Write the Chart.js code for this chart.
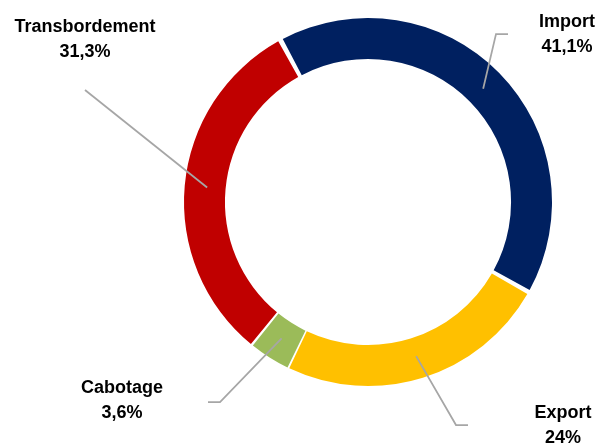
<!DOCTYPE html>
<html>
<head>
<meta charset="utf-8">
<script src="https://cdn.jsdelivr.net/npm/chart.js@4/dist/chart.umd.min.js"></script>
<style>
  html, body { margin: 0; padding: 0; background: #fff; }
  #wrap { width: 602px; height: 446px; }
</style>
</head>
<body>
<div id="wrap"><canvas id="trafficChart" width="602" height="446"></canvas></div>
<script>
const categories = ["Import", "Export", "Cabotage", "Transbordement"];
const shares = [41.1, 24, 3.6, 31.3];
const sliceColors = ["#002060", "#FFC000", "#9BBB59", "#C00000"];

// where each label sits, and the bend of its leader line (null = straight)
const labelSpots = [
  { x: 567, y: 22, elbow: [496, 34], end: [508, 34] },
  { x: 563, y: 413, elbow: [456, 425], end: [468, 425] },
  { x: 122, y: 388, elbow: [220, 402], end: [208, 402] },
  { x: 85, y: 27, elbow: null, end: [85, 90] }
];

function fmtPct(v) {
  return String(v).replace(".", ",") + "%";
}

const leaderLabels = {
  id: "leaderLabels",
  afterDatasetsDraw(chart) {
    const ctx = chart.ctx;
    const arcs = chart.getDatasetMeta(0).data;
    ctx.save();
    arcs.forEach((arc, i) => {
      const p = arc.getProps(["x", "y", "startAngle", "endAngle", "innerRadius", "outerRadius"], true);
      const mid = (p.startAngle + p.endAngle) / 2;
      const r = (p.innerRadius + p.outerRadius) / 2;
      const sx = p.x + Math.cos(mid) * r;
      const sy = p.y + Math.sin(mid) * r;
      const spot = labelSpots[i];

      ctx.beginPath();
      ctx.strokeStyle = "#A6A6A6";
      ctx.lineWidth = 1.75;
      ctx.moveTo(sx, sy);
      if (spot.elbow) ctx.lineTo(spot.elbow[0], spot.elbow[1]);
      ctx.lineTo(spot.end[0], spot.end[1]);
      ctx.stroke();

      ctx.fillStyle = "#000";
      ctx.font = "bold 18px 'Liberation Sans', Arial, sans-serif";
      ctx.textAlign = "center";
      ctx.textBaseline = "middle";
      ctx.fillText(categories[i], spot.x, spot.y);
      ctx.fillText(fmtPct(shares[i]), spot.x, spot.y + 25);
    });
    ctx.restore();
  }
};

new Chart(document.getElementById("trafficChart"), {
  type: "doughnut",
  data: {
    labels: categories,
    datasets: [{
      data: shares,
      backgroundColor: sliceColors,
      borderWidth: 0,
      spacing: 4
    }]
  },
  options: {
    responsive: false,
    animation: false,
    rotation: -28.5,
    cutout: "77.5%",
    layout: { padding: { left: 184, right: 50, top: 18, bottom: 60 } },
    plugins: {
      legend: { display: false },
      tooltip: { enabled: false }
    }
  },
  plugins: [leaderLabels]
});
</script>
</body>
</html>
